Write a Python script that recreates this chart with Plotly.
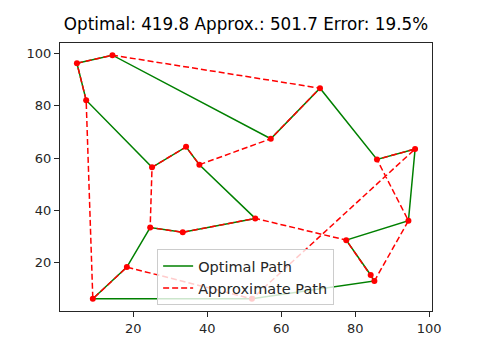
import plotly.graph_objects as go

# City coordinates
city_x = [4.8, 14.4, 7.3, 25.1, 34.3, 37.9, 70.5, 57.2, 85.9, 96.2,
          94.4, 77.6, 84.2, 85.2, 53.0, 33.4, 24.6, 18.3, 9.1, 52.1]
city_y = [96.2, 99.3, 82.1, 56.5, 64.3, 57.5, 86.7, 67.4, 59.5, 63.5,
          36.1, 28.7, 15.4, 13.1, 37.0, 31.7, 33.5, 18.4, 6.3, 6.3]

optimal_tour = [0, 1, 7, 6, 8, 9, 10, 11, 12, 13, 19, 18, 17, 16, 15, 14, 5, 4, 3, 2]
approx_tour = [0, 1, 6, 7, 5, 4, 3, 16, 15, 14, 11, 12, 13, 10, 8, 9, 19, 17, 18, 2]

optimal_len = 419.8
approx_len = 501.7
error_pct = 19.5

x_ticks = [20, 40, 60, 80, 100]
y_ticks = [20, 40, 60, 80, 100]


def closed(tour):
    t = tour + [tour[0]]
    return [city_x[i] for i in t], [city_y[i] for i in t]


ox, oy = closed(optimal_tour)
ax_, ay_ = closed(approx_tour)

fig = go.Figure()
fig.add_trace(go.Scatter(x=ox, y=oy, mode="lines", name="Optimal Path",
                         line=dict(color="green", width=1.5)))
fig.add_trace(go.Scatter(x=ax_, y=ay_, mode="lines", name="Approximate Path",
                         line=dict(color="red", width=1.5, dash="6px,3px")))
fig.add_trace(go.Scatter(x=city_x, y=city_y, mode="markers", showlegend=False,
                         marker=dict(color="red", size=6, line=dict(width=0))))

font = "DejaVu Sans"
fig.update_layout(
    width=480, height=357,
    margin=dict(l=60, r=48, t=43, b=46),
    paper_bgcolor="white", plot_bgcolor="white",
    font=dict(family=font, size=12.5, color="#262626"),
    title=dict(text=f"Optimal: {optimal_len} Approx.: {approx_len} Error: {error_pct}%",
               x=0.5, xref="paper", y=1 - 24 / 357, yref="container",
               xanchor="center", yanchor="middle",
               font=dict(family=font, size=16.8, color="black")),
    showlegend=True,
    legend=dict(x=0.499, y=0.022, xanchor="center", yanchor="bottom",
                bgcolor="rgba(255,255,255,0.8)", bordercolor="#cccccc", borderwidth=1,
                font=dict(family=font, size=14.5, color="#262626"),
                tracegroupgap=0, itemwidth=30),
)
axis_common = dict(showgrid=False, zeroline=False, showline=True, linecolor="#262626",
                   linewidth=1.2, mirror=True, ticks="outside", ticklen=5, tickwidth=1,
                   tickcolor="#262626", tickfont=dict(family=font, size=13, color="#262626"))
fig.update_xaxes(range=[0.23, 100.77], tickvals=x_ticks, **axis_common)
fig.update_yaxes(range=[1.65, 103.95], tickvals=y_ticks, **axis_common)

fig.write_html("out.html", config={"displayModeBar": False},
               post_script="document.body.style.margin='0';document.body.style.padding='0';")
